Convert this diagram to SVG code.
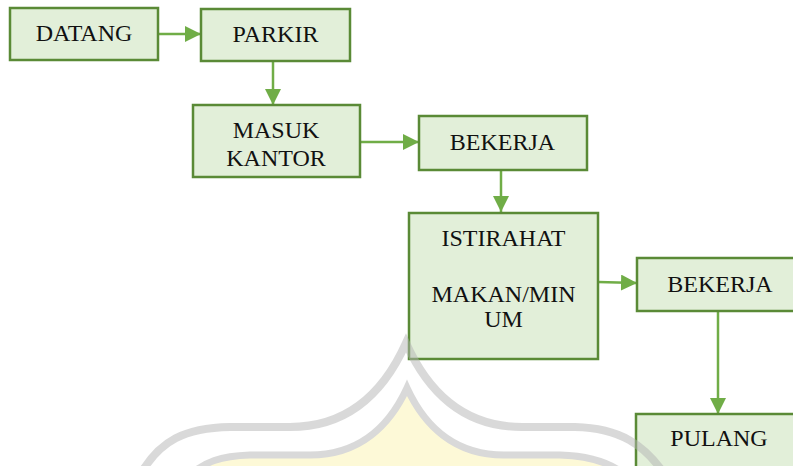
<svg xmlns="http://www.w3.org/2000/svg" width="793" height="466" viewBox="0 0 793 466">
  <style>
    .box { fill: #e2efd9; stroke: #5a8a36; stroke-width: 2.5; }
    .lbl { font-family: "Liberation Serif", "Times New Roman", serif; font-size: 24px; fill: #111; text-anchor: middle; }
    .edge { stroke: #70ad47; stroke-width: 2.5; fill: none; marker-end: url(#head); }
  </style>
  <defs>
    <marker id="head" markerUnits="userSpaceOnUse" markerWidth="16" markerHeight="16" viewBox="0 0 16 16" refX="16" refY="8" orient="auto">
      <path d="M0,0 L16,8 L0,16 Z" fill="#70ad47"/>
    </marker>
  </defs>
  <rect width="793" height="466" fill="#fff"/>

  <g id="connectors">
    <line class="edge" x1="158" y1="34" x2="201" y2="34"/>
    <line class="edge" x1="273" y1="61" x2="273" y2="105"/>
    <line class="edge" x1="360" y1="142" x2="419" y2="142"/>
    <line class="edge" x1="501" y1="170" x2="501" y2="212"/>
    <line class="edge" x1="598" y1="282" x2="637" y2="283"/>
    <line class="edge" x1="718" y1="311" x2="718" y2="414"/>
  </g>

  <g id="datang">
    <rect class="box" x="10" y="8" width="148" height="52"/>
    <text class="lbl" x="84" y="41">DATANG</text>
  </g>
  <g id="parkir">
    <rect class="box" x="201" y="9" width="149" height="52"/>
    <text class="lbl" x="275.5" y="42">PARKIR</text>
  </g>
  <g id="masuk-kantor">
    <rect class="box" x="193" y="105" width="167" height="72"/>
    <text class="lbl" x="276" y="138">MASUK</text>
    <text class="lbl" x="276" y="166">KANTOR</text>
  </g>
  <g id="bekerja-1">
    <rect class="box" x="419" y="116" width="168" height="54"/>
    <text class="lbl" x="502.5" y="150">BEKERJA</text>
  </g>
  <g id="istirahat">
    <rect class="box" x="409" y="213" width="189" height="146"/>
    <text class="lbl" x="503.5" y="246">ISTIRAHAT</text>
    <text class="lbl" x="503.5" y="302">MAKAN/MIN</text>
    <text class="lbl" x="503.5" y="327">UM</text>
  </g>
  <g id="bekerja-2">
    <rect class="box" x="637" y="258" width="170" height="53"/>
    <text class="lbl" x="720" y="292">BEKERJA</text>
  </g>
  <g id="pulang">
    <rect class="box" x="636" y="414" width="170" height="70"/>
    <text class="lbl" x="719" y="446">PULANG</text>
  </g>

  <!-- faint dome emblem in the background -->
  <g id="emblem" opacity="0.5">
    <path d="M190 475 C205 462 220 456 250 455 L310 455 C360 455 390 425 407 388 C424 425 454 455 504 455 L560 455 C590 456 610 462 625 475 Z" fill="#fdf5b0"/>
    <path d="M140 475 C160 440 185 428 230 427 L290 427 C350 427 385 390 406 343 C427 390 462 427 522 427 L575 427 C620 428 645 445 665 475" fill="none" stroke="#b4b4b4" stroke-width="8"/>
    <path d="M190 475 C205 462 220 456 250 455 L310 455 C360 455 390 425 407 388 C424 425 454 455 504 455 L560 455 C590 456 610 462 625 475" fill="none" stroke="#b4b4b4" stroke-width="7"/>
  </g>
</svg>
